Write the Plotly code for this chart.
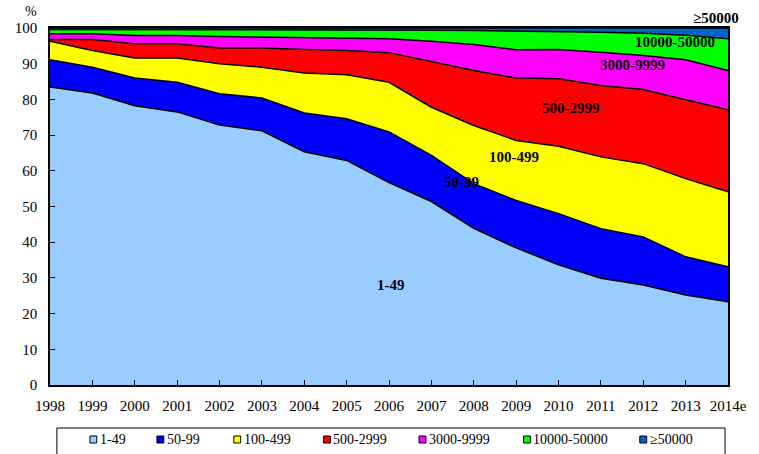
import plotly.graph_objects as go

years = ["1998", "1999", "2000", "2001", "2002", "2003", "2004", "2005", "2006",
         "2007", "2008", "2009", "2010", "2011", "2012", "2013", "2014e"]

s_1_49 = [83.5, 81.8, 78.2, 76.5, 72.8, 71.2, 65.3, 62.9, 56.7, 51.4, 43.9, 38.4, 33.7, 29.9, 28.0, 25.2, 23.3]
s_50_99 = [7.6, 7.2, 7.8, 8.3, 8.8, 9.2, 10.9, 11.7, 14.2, 12.9, 12.5, 13.3, 14.3, 13.9, 13.5, 10.7, 9.8]
s_100_499 = [5.2, 4.7, 5.6, 6.8, 8.4, 8.6, 11.2, 12.3, 13.9, 13.5, 16.3, 16.8, 18.9, 20.1, 20.5, 21.9, 21.0]
s_500_2999 = [0.5, 3.1, 4.0, 4.0, 4.4, 5.4, 6.6, 6.8, 8.3, 12.7, 15.4, 17.5, 18.9, 20.0, 20.8, 22.1, 23.0]
s_3000_9999 = [1.6, 1.6, 2.3, 2.3, 3.2, 3.0, 3.3, 3.5, 3.9, 5.8, 7.3, 7.9, 8.2, 9.3, 9.5, 11.2, 11.0]
s_10000_50000 = [1.2, 1.2, 1.7, 1.7, 1.9, 2.1, 2.2, 2.3, 2.4, 3.1, 3.9, 5.3, 5.0, 5.6, 6.2, 6.9, 8.9]
s_50000 = [0.4, 0.4, 0.4, 0.4, 0.5, 0.5, 0.5, 0.5, 0.6, 0.6, 0.7, 0.8, 1.0, 1.2, 1.5, 2.0, 3.0]

series_names = ["1-49", "50-99", "100-499", "500-2999", "3000-9999", "10000-50000", "≥50000"]
series_vals = [s_1_49, s_50_99, s_100_499, s_500_2999, s_3000_9999, s_10000_50000, s_50000]
colors = ["#99CCFF", "#0000FF", "#FFFF00", "#FF0000", "#FF00FF", "#00FF00", "#0066CC"]

SERIF = "Liberation Serif"

fig = go.Figure()
for name, vals, col in zip(series_names, series_vals, colors):
    fig.add_trace(go.Scatter(
        x=years, y=vals, name=name, mode="lines",
        stackgroup="one", fillcolor=col,
        line=dict(color="black", width=1.5),
        showlegend=False, hoverinfo="x+y+name",
    ))

# In-chart labels: (text, x position index along category axis, y value)
area_labels = [
    ("1-49", 8.05, 28),
    ("50-99", 9.7, 57.0),
    ("100-499", 10.95, 64.0),
    ("500-2999", 12.3, 77.5),
    ("3000-9999", 13.75, 89.5),
    ("10000-50000", 14.75, 96.0),
]
annotations = []
for txt, xx, yy in area_labels:
    annotations.append(dict(x=xx, y=yy, xref="x", yref="y", text=f"<b>{txt}</b>",
                            showarrow=False, font=dict(family=SERIF, size=15, color="black")))
annotations.append(dict(x=0.983, y=1.0, xref="paper", yref="paper", text="<b>≥50000</b>",
                        showarrow=False, yanchor="bottom", xanchor="center",
                        font=dict(family=SERIF, size=15, color="black")))
annotations.append(dict(x=-0.028, y=1.02, xref="paper", yref="paper", text="%",
                        showarrow=False, yanchor="bottom", xanchor="center",
                        font=dict(family=SERIF, size=14, color="black")))

# Manual legend
W0, W1 = 50, 738
H0, H1 = 28, 385
def px(xp):
    return (xp - W0) / (W1 - W0)
def py(yp):
    return (H1 - yp) / (H1 - H0)

shapes = [dict(type="rect", xref="paper", yref="paper",
               x0=px(57), x1=px(735), y0=py(470), y1=py(428),
               line=dict(color="black", width=1), fillcolor="rgba(0,0,0,0)")]
leg_x = [94, 162, 240, 331, 428, 534, 652]
for name, col, lx in zip(series_names, colors, leg_x):
    shapes.append(dict(type="rect", xref="paper", yref="paper",
                       x0=px(lx - 3.5), x1=px(lx + 3.5), y0=py(443), y1=py(436),
                       line=dict(color="black", width=1), fillcolor=col))
    annotations.append(dict(x=px(lx + 4.5), y=py(439.5), xref="paper", yref="paper",
                            text=name, showarrow=False, xanchor="left", yanchor="middle",
                            font=dict(family=SERIF, size=14, color="black")))

fig.update_layout(
    width=759, height=454,
    margin=dict(l=W0, r=759 - W1, t=H0, b=454 - H1),
    paper_bgcolor="white", plot_bgcolor="white",
    showlegend=False,
    annotations=annotations,
    shapes=shapes,
    xaxis=dict(type="category", range=[0, 16], showgrid=False, zeroline=False,
               showline=True, linecolor="black", linewidth=1.5, mirror=True,
               ticks="inside", ticklen=5, tickcolor="black", ticklabelstandoff=6,
               tickfont=dict(family=SERIF, size=15, color="black")),
    yaxis=dict(range=[0, 100], dtick=10, showgrid=False, zeroline=False,
               showline=True, linecolor="black", linewidth=1.5, mirror=True,
               ticks="inside", ticklen=5, tickcolor="black", ticklabelstandoff=8,
               tickfont=dict(family=SERIF, size=15, color="black")),
)

fig.write_html("out.html", config={"displayModeBar": False},
               post_script="document.body.style.margin='0';document.body.style.padding='0';")
